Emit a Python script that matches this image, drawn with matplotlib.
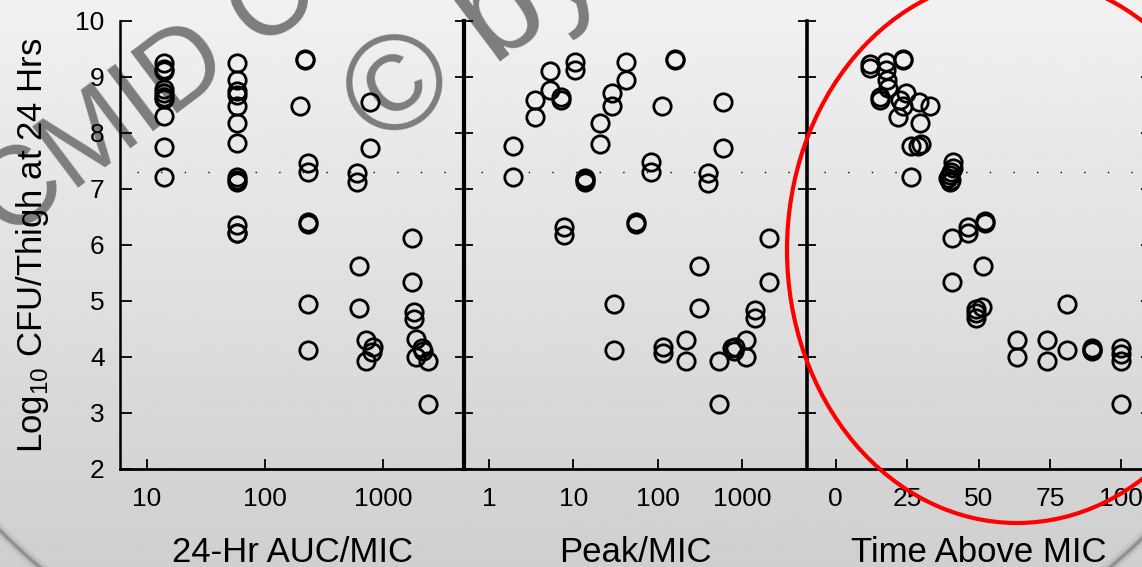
import numpy as np
import matplotlib.pyplot as plt
from matplotlib.patches import Ellipse
from matplotlib.ticker import FixedLocator, NullLocator

plt.rcParams['font.family'] = ['Liberation Sans', 'DejaVu Sans']
plt.rcParams['mathtext.fontset'] = 'custom'
plt.rcParams['mathtext.rm'] = 'Liberation Sans'

# ---- data ----
auc_x = [14, 14, 14, 14, 14, 14, 14, 14, 14, 14,
         58, 58, 58, 58, 58, 58, 58, 58, 58, 58, 58, 58, 58,
         218, 218, 198, 232, 232, 232, 232, 232, 232,
         776, 776, 600, 600, 630, 630, 720, 822, 800, 720,
         1757, 1757, 1820, 1820, 1900, 2140, 2200, 1900, 2400, 2400]
auc_y = [9.25, 9.15, 9.1, 8.78, 8.72, 8.65, 8.6, 8.3, 7.75, 7.22,
         9.25, 8.95, 8.75, 8.68, 8.48, 8.18, 7.82, 7.21, 7.16, 7.13, 6.36, 6.21, 6.21,
         9.33, 9.31, 8.48, 7.46, 7.31, 6.41, 6.38, 4.95, 4.13,
         8.56, 7.73, 7.28, 7.13, 5.62, 4.88, 4.31, 4.18, 4.09, 3.93,
         6.12, 5.34, 4.80, 4.68, 4.32, 4.16, 4.10, 4.0, 3.93, 3.16]

peak_x = [1.94, 1.94, 3.5, 3.5, 5.3, 5.3, 7.1, 7.1, 10.5, 10.5,
          13.8, 13.8, 13.8, 20.7, 20.7, 28.5, 28.5, 41.9, 41.9, 82.8,
          82.8, 112, 161, 161, 602, 602, 400, 400, 7.8, 7.8,
          55, 55, 2114, 30.7, 30.7, 117, 117, 217, 217, 307,
          307, 531, 531, 757, 829, 800, 1110, 1110, 1430, 1430, 2114]
peak_y = [7.76, 7.22, 8.59, 8.29, 9.11, 8.76, 8.65, 8.59, 9.27, 9.12,
          7.19, 7.16, 7.13, 8.17, 7.8, 8.71, 8.48, 9.26, 8.95, 7.48,
          7.31, 8.48, 9.33, 9.31, 8.56, 7.73, 7.28, 7.11, 6.33, 6.18,
          6.41, 6.38, 6.12, 4.94, 4.125, 4.18, 4.07, 4.30, 3.92, 5.625,
          4.88, 3.93, 3.16, 4.16, 4.18, 4.10, 4.30, 4.0, 4.84, 4.69, 5.34]

tam_x = [11.9, 11.9, 17.7, 17.7, 17.9, 23.5, 23.5, 15.4, 15.4, 18.3,
         24.5, 22.4, 23.5, 21.8, 29.1, 32.9, 29.6, 26.5, 28.8, 30,
         26.5, 41, 41, 40.5, 40, 39.5, 40, 40.5, 40.8, 46.3,
         46.3, 52.1, 52.1, 40.8, 51.5, 49.2, 51.3, 49.2, 49.2, 63.4,
         63.4, 73.9, 73.9, 80.9, 80.9, 89.7, 89.7, 89.7, 100, 100, 100, 100]
tam_y = [9.24, 9.16, 9.27, 9.12, 8.95, 9.33, 9.31, 8.65, 8.59, 8.8,
         8.71, 8.59, 8.48, 8.29, 8.56, 8.48, 8.17, 7.76, 7.76, 7.8,
         7.22, 7.49, 7.37, 7.31, 7.25, 7.19, 7.13, 7.16, 6.12, 6.33,
         6.21, 6.42, 6.39, 5.34, 5.625, 4.85, 4.9, 4.69, 4.78, 4.30,
         4.0, 4.30, 3.92, 4.95, 4.125, 4.16, 4.13, 4.10, 4.16, 4.05, 3.93, 3.16]

stasis = 7.3
y_ticks = [2, 3, 4, 5, 6, 7, 8, 9, 10]
xlabels = ['24-Hr AUC/MIC', 'Peak/MIC', 'Time Above MIC']

W, H = 1142, 567
fig = plt.figure(figsize=(W / 100, H / 100), dpi=100)

def fx(px):
    return px / W

def fy(py):
    return 1 - py / H

# grey slide background
bg = fig.add_axes([0, 0, 1, 1], zorder=-10)
grad = np.linspace(241, 207, 256)[:, None] / 255
bg.imshow(grad, aspect='auto', cmap='gray', vmin=0, vmax=1, extent=[0, 1, 0, 1])
bg.set_xlim(0, 1)
bg.set_ylim(0, 1)
bg.axis('off')
for lw, a in [(9, 0.08), (5, 0.15), (2.2, 0.45)]:
    bg.add_patch(Ellipse((fx(575), fy(200)), 1440 / W, 1098 / H, fill=False,
                         ec='#606060', lw=lw, alpha=a, transform=bg.transAxes))

# watermark
fig.text(fx(7), fy(241), 'CMID Co', fontsize=80, color='#7d7d7d', rotation=37,
         rotation_mode='anchor', ha='left', va='baseline', zorder=-5)
fig.text(fx(383), fy(150), '\u00a9 by', fontsize=98, color='#7d7d7d', rotation=37,
         rotation_mode='anchor', ha='left', va='baseline', zorder=-5)

bottom, top = fy(469), fy(21)
panels = [(120, 464), (464, 807), (807, 1150)]
xs = [auc_x, peak_x, tam_x]
ys = [auc_y, peak_y, tam_y]
spine_w = [1.8, 3.0, 2.6]

axes = []
for i, (l, r) in enumerate(panels):
    ax = fig.add_axes([fx(l), bottom, fx(r) - fx(l), top - bottom])
    ax.set_facecolor('none')
    ax.plot(xs[i], ys[i], 'o', ms=12.5, mfc='none', mec='black', mew=2.0, clip_on=False)
    ax.axhline(stasis, xmin=0.05, xmax=1, color='black', lw=1, ls=(0, (1, 16)))
    ax.set_ylim(2, 10)
    ax.spines['top'].set_visible(False)
    ax.spines['right'].set_visible(i == 2)
    ax.spines['left'].set_linewidth(spine_w[i])
    ax.spines['right'].set_linewidth(spine_w[i])
    ax.spines['bottom'].set_linewidth(2.0)
    ax.yaxis.set_major_locator(FixedLocator(y_ticks))
    ax.tick_params(axis='x', direction='in', length=7.5, width=1.3,
                   labelsize=19, pad=13)
    if i == 0:
        ax.tick_params(axis='y', direction='in', length=8.5, width=1.3,
                       labelsize=19, pad=11)
    else:
        ax.tick_params(axis='y', direction='inout', length=13, width=1.3,
                       labelleft=False, right=(i == 2))
    ax.set_xlabel(xlabels[i], fontsize=25)
    ax.xaxis.set_label_coords(0.5, -0.15)
    axes.append(ax)

ax1, ax2, ax3 = axes
ax1.set_xscale('log')
ax1.set_xlim(5.9, 4850)
ax1.set_xticks([10, 100, 1000])
ax1.set_xticklabels(['10', '100', '1000'])
ax1.xaxis.set_minor_locator(NullLocator())

ax2.set_xscale('log')
ax2.set_xlim(0.505, 5900)
ax2.set_xticks([1, 10, 100, 1000])
ax2.set_xticklabels(['1', '10', '100', '1000'])
ax2.xaxis.set_minor_locator(NullLocator())

ax3.set_xlim(-10, 110)
ax3.set_xticks([0, 25, 50, 75, 100])

ax1.set_ylabel('Log$_{10}$ CFU/Thigh at 24 Hrs', fontsize=25)
ax1.yaxis.set_label_coords(-0.2, 0.5)

# red highlight ring
fig.add_artist(Ellipse((fx(1017), fy(250)), 460 / W, 546 / H, fill=False,
                       ec='#ff0000', lw=3, transform=fig.transFigure, zorder=10))

fig.savefig('out.png', dpi=100)
